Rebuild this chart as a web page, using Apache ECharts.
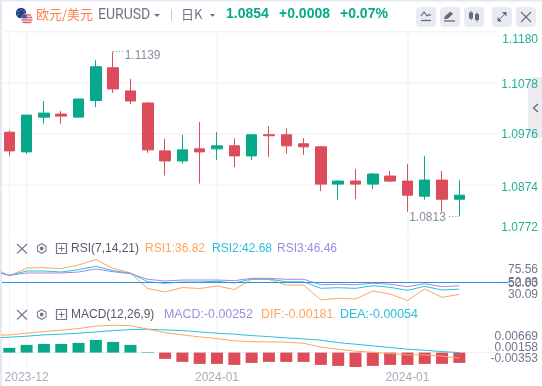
<!DOCTYPE html>
<html><head><meta charset="utf-8">
<style>html,body{margin:0;padding:0;background:#fff}#c{width:542px;height:386px}</style>
<script src="https://cdn.jsdelivr.net/npm/echarts@6/dist/echarts.min.js"></script>
</head><body><div id="c"></div>
<script>
// index along the x axis (-1 = the session just left of the visible window)
const openV  = [1.0979,1.0940,1.1009,1.1015,1.1009,1.1042,1.1107,1.1061,1.1037,1.0942,1.0922,1.0946,1.0946,1.0952,1.0932,1.0974,1.0974,1.0956,1.0950,1.0876,1.0882,1.0876,1.0892,1.0882,1.0852,1.0884,1.0846];
const closeV = [1.0942,1.1013,1.1017,1.1011,1.1045,1.1109,1.1065,1.1041,1.0944,1.0922,1.0944,1.0940,1.0952,1.0932,1.0974,1.0972,1.0952,1.0950,1.0876,1.0882,1.0876,1.0896,1.0882,1.0854,1.0884,1.0846,1.0854];
const lowV   = [1.0932,1.0936,1.0996,1.0996,1.1009,1.1029,1.1057,1.1035,1.0938,1.0893,1.0917,1.0877,1.0924,1.0910,1.0924,1.0930,1.0936,1.0934,1.0862,1.0845,1.0846,1.0866,1.0880,1.0821,1.0845,1.0821,1.0813];
const highV  = [1.0983,1.1013,1.1041,1.1021,1.1045,1.1122,1.1139,1.1085,1.1039,1.0966,1.0974,1.0999,1.0979,1.0967,1.0974,1.0991,1.0987,1.0967,1.0952,1.0884,1.0906,1.0898,1.0902,1.0916,1.0932,1.0902,1.0884];
const rsi1 = [67.6,57.3,66.1,66.5,65.4,69.5,75.56,65.6,60.6,43.4,39.5,44.5,43.4,46.2,42.3,53.4,53.4,47.3,47.3,30.65,32.5,31.8,40.6,37.3,30.09,42.9,33.6,36.82];
const rsi2 = [63.4,58.0,62.8,62.8,61.7,64.3,68.0,63.1,60.3,50.9,49.2,50.6,50.6,51.4,49.5,53.9,53.9,50.9,50.9,43.6,44.3,43.6,46.5,44.7,41.4,45.8,41.7,42.68];
const rsi3 = [62.8,58.0,60.6,60.6,60.6,61.7,65.0,62.0,59.8,53.6,51.7,52.8,52.8,52.8,52.1,54.7,54.7,53.6,53.6,47.6,48.1,47.6,49.2,48.1,45.4,48.7,45.4,46.46];
const dif  = [0.00421,0.00434,0.00475,0.00515,0.00549,0.00588,0.00650,0.00669,0.00660,0.00573,0.00490,0.00434,0.00385,0.00343,0.00287,0.00270,0.00262,0.00255,0.00230,0.00132,0.00083,0.00034,0.00010,-0.00025,-0.00056,-0.00056,-0.00088,-0.00137];
const dea  = [0.00360,0.00377,0.00402,0.00434,0.00451,0.00475,0.00507,0.00539,0.00564,0.00573,0.00556,0.00539,0.00507,0.00475,0.00451,0.00417,0.00392,0.00360,0.00336,0.00304,0.00245,0.00206,0.00164,0.00123,0.00083,0.00059,0.00025,0];
const hist = [0.00115,0.00189,0.00213,0.00213,0.00238,0.00311,0.00262,0.00189,0.00012,-0.00154,-0.00228,-0.00277,-0.00277,-0.00301,-0.00252,-0.00228,-0.00228,-0.00228,-0.00301,-0.00326,-0.00353,-0.00326,-0.00301,-0.00301,-0.00277,-0.00277,-0.00252];
const dateTicks = [1,12,23];
const dateLabels = ['2023-12','2024-01','2024-01'];
const priceGrid = [1.0874,1.0976,1.1078];
const priceLabels = ['','1.1180','1.1078','1.0976','1.0874','1.0772',''];
const rsiLabels = ['','75.56','52.83','50.00','30.09',''];
const macdLabels = ['','0.00669','0.00158','-0.00353',''];

const GREEN='#08a88a', RED='#dc4c5a', ORANGE='#ffa45c', CYAN='#2bc0dc', PURPLE='#a48be0', BLUE='#2e90e6';
const GRAY='#72768a', LINE='#f4f5f9', DIV='#eef0f5', FONT='"Liberation Sans",Arial,sans-serif';
const XMIN=-0.4217, XMAX=28.203;
const H = {price:205.5,rsi:64,macd:65};
const pos = {price:[0,8.3,53.7,104,156.3,196.3,205.5], rsi:[0,32,45.1,45.7,56.3,64], macd:[0,34.7,45.3,56.7,65]};

function xAxis(i,showLabel){return {type:'value',gridIndex:i,min:XMIN,max:XMAX,
  axisLine:{show:i===2,lineStyle:{color:DIV}},axisTick:{show:false,customValues:dateTicks},
  splitLine:{show:true,lineStyle:{color:LINE,width:1.5}},
  axisLabel:{show:showLabel,customValues:dateTicks,margin:5,fontSize:12,fontFamily:FONT,color:'#a9adbb',hideOverlap:false,
    formatter:v=>dateLabels[dateTicks.indexOf(v)]}};}
function labelAxis(i,key,texts,colorFn){return {type:'value',gridIndex:i,position:'right',inverse:true,min:0,max:H[key],z:6,
  splitLine:{show:false},axisLine:{show:false},axisTick:{show:false},
  axisLabel:{customValues:pos[key],align:'right',margin:40.5,fontSize:12,fontFamily:FONT,hideOverlap:false,
    color:colorFn,formatter:v=>texts[pos[key].indexOf(v)]}};}
function pair(arr){return arr.map((v,i)=>[i-1,v]);}

function ln(x1,y1,x2,y2,c,w){return {type:'line',silent:true,shape:{x1,y1,x2,y2},style:{stroke:c,lineWidth:w||1}};}
function rc(x,y,width,height,c,r){return {type:'rect',silent:true,shape:{x,y,width,height,r:r||0},style:{fill:c}};}
function circ(cx,cy,r,c,s){return {type:'circle',silent:true,shape:{cx,cy,r},style:s?{fill:'none',stroke:s,lineWidth:c}:{fill:c}};}
function poly(points,c,w){return {type:'polyline',silent:true,shape:{points},style:{stroke:c,lineWidth:w||1,fill:'none'}};}
function pg(points,c){return {type:'polygon',silent:true,shape:{points},style:{fill:c}};}
function tx(x,y,text,c,size,weight,family){return {type:'text',silent:true,x,y,style:{text,fill:c,font:(weight||'normal')+' '+(size||12)+'px '+(family||FONT),textVerticalAlign:'middle'}};}
const CJK='"Noto Sans CJK SC",sans-serif', RB='Roboto,sans-serif';
function panelIcons(y){const g=[];
  g.push(ln(17,y-4.5,27,y+5,GRAY,1.1),ln(27,y-4.5,17,y+5,GRAY,1.1));
  g.push(pg([[41.7,y-5.5],[46.5,y-2.8],[46.5,y+2.8],[41.7,y+5.5],[36.9,y+2.8],[36.9,y-2.8]],GRAY));
  g.push(pg([[41.7,y-4.3],[45.5,y-2.1],[45.5,y+2.1],[41.7,y+4.3],[37.9,y+2.1],[37.9,y-2.1]],'#fff'));
  g.push(circ(41.7,y,1,1.8,GRAY));
  g.push({type:'rect',silent:true,shape:{x:56.5,y:y-5,width:10,height:10},style:{fill:'none',stroke:GRAY,lineWidth:1.2}});
  g.push(ln(58.5,y,64.5,y,GRAY,1),ln(61.5,y-3,61.5,y+3,GRAY,1));
  return g;}
const BTN='#e9ebf2', IC='#666a7a';
const graphics=[
  rc(0,0,2,386,'#e4e8f2'), rc(0,0,542,1.5,'#e4e8f2'),
  rc(0,31,498,1.5,'#f3f4f8'),
  rc(528,77,14,61,'#ebebf0',[6,0,0,0]),
  poly([[538,104],[533.5,108],[538,112]],'#5f6370',1.3),
  // flags
  circ(21,13,5.2,'#1f3f94'),
  circ(21,9.8,.6,'#e8c840'),circ(24,11.5,.6,'#e8c840'),circ(18,11.5,.6,'#e8c840'),circ(24,14.5,.6,'#e8c840'),circ(18,14.5,.6,'#e8c840'),
  circ(27,18.5,5.5,'#f3e4e6'),
  rc(23,14.3,8,1.3,'#d8606c'),rc(21.8,16.8,10.4,1.3,'#d8606c'),rc(21.6,19.3,10.8,1.3,'#d8606c'),rc(22.5,21.8,9,1.3,'#d8606c'),
  rc(22.2,14.8,4.5,3.5,'#3a5aa0'),
  // header
  tx(36,14.5,'欧元/美元','#ff7d52',13,'normal',CJK),
  tx(98,15.5,'EURUSD','#6f7484',14,'normal',RB),
  pg([[154,14],[160,14],[157,17]],'#6f7484'),
  ln(171.5,9,171.5,21,'#c8ccd6',1),
  tx(181,14.5,'日K','#6f7484',13,'normal',CJK),
  pg([[210,14],[215,14],[212.5,17]],'#6f7484'),
  tx(226,14.5,'1.0854',GREEN,14,'bold'),
  tx(279,14.5,'+0.0008',GREEN,14,'bold'),
  tx(340,14.5,'+0.07%',GREEN,14,'bold'),
  // toolbar
  rc(416,7,20,20,BTN,4),rc(440,7,20,20,BTN,4),rc(464,7,20,20,BTN,4),rc(492,7,20,20,BTN,4),rc(516,7,20,20,BTN,4),
  poly([[421,16],[424,12],[427,16],[429,14.5],[431,15.5]],IC,1.2),ln(421,20.5,431,20.5,IC,1.3),
  pg([[444,19],[445,16],[450.5,11.5],[453,14],[447.5,19]],IC),ln(444,21,455,21,IC,1.3),
  rc(469,12.5,4,6,IC),ln(471,11,471,20,IC,1),rc(475,14,4,6,IC),ln(477,12.5,477,22,IC,1),
  pg([[502,12],[506.5,12],[506.5,16.5]],IC),pg([[497.5,21.5],[497.5,17],[502,21.5]],IC),ln(499,20,505,13.5,IC,1),
  ln(521,12,531,22,IC,1.1),ln(531,12,521,22,IC,1.1),
  // RSI header
  ...panelIcons(248.5),
  tx(71,248.5,'RSI(7,14,21)','#555a6a',12),
  tx(145,248.5,'RSI1:36.82',ORANGE,12),
  tx(212,248.5,'RSI2:42.68',CYAN,12),
  tx(277,248.5,'RSI3:46.46',PURPLE,12),
  // MACD header
  ...panelIcons(314.5),
  tx(71,314.5,'MACD(12,26,9)','#555a6a',12),
  tx(164,314.5,'MACD:-0.00252',PURPLE,12.4),
  tx(261,314.5,'DIF:-0.00181',ORANGE,12.4),
  tx(340,314.5,'DEA:-0.00054',CYAN,12.4),
  ln(497,282.5,508,282.5,BLUE,1.2),
];
graphics.forEach(g=>{g.z=1;});

const chart=echarts.init(document.getElementById('c'),null,{renderer:'canvas'});
const candle=openV.map((o,i)=>[i,o,closeV[i],lowV[i],highV[i]]);
function line(data,color,xi,yi){return {type:'line',xAxisIndex:xi,yAxisIndex:yi,data:pair(data),showSymbol:false,symbol:'none',smooth:false,
  lineStyle:{color,width:1},itemStyle:{color},z:4,silent:true,animation:false};}
const tagLabel=(text,pos2,ox,oy)=>({show:true,formatter:text,position:pos2,offset:[ox,oy],color:'#8a8e9c',fontSize:12,fontFamily:FONT});
chart.setOption({
  animation:false,
  backgroundColor:'#fff',
  graphic:graphics,
  grid:[
    {left:2,width:495.5,top:31,height:H.price},
    {left:2,width:495.5,top:238,height:H.rsi},
    {left:2,width:495.5,top:302,height:H.macd}],
  xAxis:[xAxis(0,false),xAxis(1,false),xAxis(2,true)],
  yAxis:[
    {type:'value',gridIndex:0,position:'right',min:1.0772,max:1.1180,scale:true,
      axisLine:{show:true,lineStyle:{color:DIV}},axisTick:{show:false,customValues:priceGrid},axisLabel:{show:false,customValues:priceGrid},
      splitLine:{show:true,lineStyle:{color:LINE,width:1.5}}},
    labelAxis(0,'price',priceLabels,v=>v===pos.price[5]?RED:'#25b198'),
    {type:'value',gridIndex:1,position:'right',min:28.43,max:99.41,
      axisLine:{show:true,lineStyle:{color:DIV}},axisTick:{show:false},axisLabel:{show:false},splitLine:{show:false}},
    labelAxis(1,'rsi',rsiLabels,v=>v===pos.rsi[3]?BLUE:GRAY),
    {type:'value',gridIndex:2,position:'right',min:-0.00353,max:0.0124,
      axisLine:{show:true,lineStyle:{color:DIV}},axisTick:{show:false},axisLabel:{show:false},splitLine:{show:false}},
    labelAxis(2,'macd',macdLabels,()=>GRAY),
  ],
  series:[
    {type:'candlestick',xAxisIndex:0,yAxisIndex:0,data:candle,barWidth:11,
      encode:{x:0,y:[1,2,3,4]},
      itemStyle:{color:GREEN,color0:RED,borderColor:GREEN,borderColor0:RED,borderWidth:1},z:3,silent:true,
      markPoint:{symbol:'circle',symbolSize:1,silent:true,animation:false,itemStyle:{color:'rgba(0,0,0,0)'},
        data:[
          {coord:[6,highV[6]],label:tagLabel('1.1139','right',6,4)},
          {coord:[26,lowV[26]],label:tagLabel('1.0813','left',-8,2)}]},
      markLine:{symbol:'none',silent:true,animation:false,label:{show:false},
        lineStyle:{color:'#8a8e9c',type:[1,2],width:1},
        data:[
          [{coord:[6,highV[6]]},{coord:[6.58,highV[6]]}],
          [{coord:[26,lowV[26]]},{coord:[25.42,lowV[26]]}]]}},
    line(rsi1,ORANGE,1,2),
    line(rsi2,CYAN,1,2),
    line(rsi3,PURPLE,1,2),
    {type:'line',xAxisIndex:1,yAxisIndex:2,data:[],symbol:'none',silent:true,
      markLine:{symbol:'none',silent:true,animation:false,label:{show:false},lineStyle:{color:BLUE,type:'solid',width:1.2},data:[{yAxis:50}]}},
    {type:'bar',xAxisIndex:2,yAxisIndex:4,data:hist.map((v,i)=>({value:[i,v],itemStyle:{color:v>=0?GREEN:RED}})),barWidth:12,silent:true,z:2},
    line(dea,CYAN,2,4),
    line(dif,ORANGE,2,4),
  ]
});
</script></body></html>
